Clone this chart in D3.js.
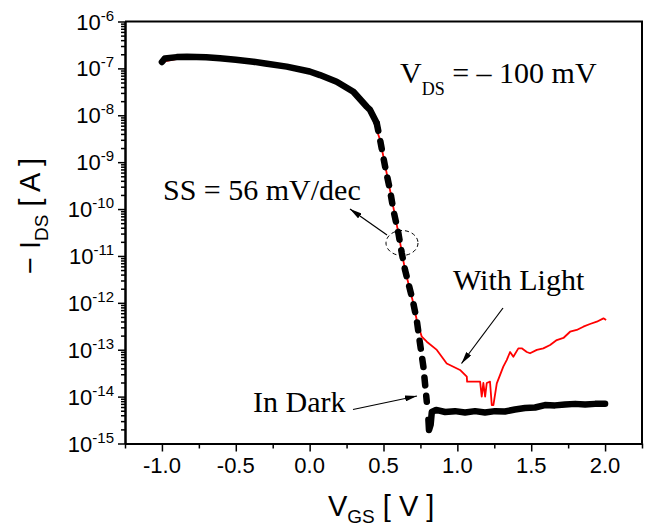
<!DOCTYPE html>
<html>
<head>
<meta charset="utf-8">
<script src="https://cdn.jsdelivr.net/npm/d3@7"></script>
<style>
  html, body { margin: 0; padding: 0; background: #fff; }
  svg { display: block; }
</style>
</head>
<body>
<div class="chart"></div>
<script>
// -I_DS (A) against V_GS (V)
let darkVgs = [-1.00, -0.98, -0.90, -0.83, -0.70, -0.607, -0.50, -0.381, -0.30, -0.155, 0.00, 0.07, 0.183, 0.296, 0.387, 0.409, 0.454,
  0.477, 0.511, 0.544, 0.567, 0.601, 0.624, 0.646, 0.680, 0.702, 0.725, 0.747, 0.770, 0.781, 0.793,
  0.804, 0.808, 0.819, 0.827, 0.856, 0.917, 0.984, 1.052, 1.12, 1.187, 1.255, 1.322, 1.39, 1.458, 1.526,
  1.593, 1.661, 1.729, 1.797, 1.865, 1.932, 2.00];
let darkIds = [1.37e-7, 1.63e-7, 1.74e-7, 1.77e-7, 1.73e-7, 1.64e-7, 1.53e-7, 1.39e-7, 1.27e-7, 1.09e-7, 8.6e-8, 7.2e-8, 5.2e-8, 3.18e-8, 1.52e-8, 1.30e-8, 6.84e-9,
  2.97e-9, 8.0e-10, 2.55e-10, 9.5e-11, 3.04e-11, 1.14e-11, 5.0e-12, 1.88e-12, 9.8e-13, 4.3e-13, 1.37e-13, 4.35e-14, 1.92e-14, 7.8e-15,
  3.2e-15, 1.94e-15, 2.5e-15, 4.7e-15, 5.2e-15, 4.7e-15, 4.9e-15, 4.6e-15, 4.9e-15, 4.6e-15, 4.9e-15, 4.8e-15, 5.3e-15, 5.7e-15, 5.85e-15,
  6.6e-15, 6.5e-15, 6.8e-15, 7.0e-15, 6.8e-15, 7.0e-15, 7.0e-15];

let lightVgs = [-1.00, -0.83, -0.607, -0.381, -0.155, 0.07, 0.296, 0.409, 0.477, 0.544, 0.601, 0.646, 0.702, 0.725,
  0.759, 0.793, 0.861, 0.928, 1.018, 1.064, 1.066, 1.154, 1.165, 1.176, 1.188, 1.199, 1.221, 1.233, 1.244, 1.267,
  1.311, 1.334, 1.357, 1.379, 1.413, 1.436, 1.47, 1.492, 1.538, 1.582, 1.628, 1.673, 1.718, 1.763, 1.808, 1.853,
  1.898, 1.944, 1.989, 2.007];
let lightIds = [1.37e-7, 1.77e-7, 1.64e-7, 1.39e-7, 1.09e-7, 7.2e-8, 3.18e-8, 1.30e-8, 2.97e-9, 2.55e-10, 3.04e-11, 5.0e-12, 9.8e-13, 4.3e-13,
  1.9e-13, 1.48e-13, 9.9e-14, 5.1e-14, 3.7e-14, 2.66e-14, 2.08e-14, 2.08e-14, 1.0e-14, 1.95e-14, 1.0e-14, 1.95e-14, 2.08e-14, 6.6e-15, 6.6e-15, 1.92e-14,
  4.35e-14, 6.0e-14, 8.95e-14, 7.1e-14, 1.07e-13, 1.07e-13, 8.95e-14, 8.4e-14, 9.9e-14, 1.07e-13, 1.26e-13, 1.61e-13, 1.78e-13, 2.42e-13, 2.64e-13, 3.1e-13,
  3.54e-13, 3.96e-13, 4.67e-13, 4.3e-13];

let xTicks = [-1.0, -0.5, 0.0, 0.5, 1.0, 1.5, 2.0];
let xTickLabels = ['-1.0', '-0.5', '0.0', '0.5', '1.0', '1.5', '2.0'];
let xMinorTicks = [-1.25, -0.75, -0.25, 0.25, 0.75, 1.25, 1.75, 2.25];
let yTickExponents = [-15, -14, -13, -12, -11, -10, -9, -8, -7, -6];
let yTickLabels = ['-15', '-14', '-13', '-12', '-11', '-10', '-9', '-8', '-7', '-6'];

let sansFont = '"Liberation Sans", Arial, sans-serif';
let serifFont = '"Liberation Serif", "Times New Roman", serif';

let svg = d3.select('div.chart').append('svg')
  .attr('width', 650)
  .attr('height', 528);

let x = d3.scaleLinear().domain([-1.25, 2.25]).range([125, 642]);
let y = d3.scaleLog().domain([1e-15, 1e-6]).range([443.5, 21.5]);

// minor log ticks 2..9 in every decade
let yMinorTicks = [];
yTickExponents.slice(0, -1).forEach(function(e) {
  d3.range(2, 10).forEach(function(k) { yMinorTicks.push(k * Math.pow(10, e)); });
});

let axes = svg.append('g');

axes.append('g')
  .attr('transform', 'translate(0,443.5)')
  .call(d3.axisBottom(x).tickValues(xMinorTicks).tickSize(5).tickSizeOuter(0).tickFormat(''));
axes.append('g')
  .attr('transform', 'translate(0,443.5)')
  .call(d3.axisBottom(x).tickValues(xTicks).tickSize(8).tickSizeOuter(0).tickFormat(''));
axes.append('g')
  .attr('transform', 'translate(125,0)')
  .call(d3.axisLeft(y).tickValues(yMinorTicks).tickSize(4).tickSizeOuter(0).tickFormat(''));
axes.append('g')
  .attr('transform', 'translate(125,0)')
  .call(d3.axisLeft(y).tickValues(yTickExponents.map(e => Math.pow(10, e))).tickSize(7).tickSizeOuter(0).tickFormat(''));

axes.selectAll('path.domain').attr('stroke', '#000').attr('stroke-width', 2);
axes.selectAll('.tick line').attr('stroke', '#000').attr('stroke-width', 1.5);

// top and right frame
svg.append('path')
  .attr('d', 'M' + x.range()[0] + ',' + y.range()[1] + 'H' + x.range()[1] + 'V' + y.range()[0])
  .attr('fill', 'none')
  .attr('stroke', '#000')
  .attr('stroke-width', 2);

svg.append('g').selectAll('text')
  .data(xTicks)
  .enter().append('text')
  .attr('x', d => x(d))
  .attr('y', 473)
  .attr('text-anchor', 'middle')
  .attr('font-family', sansFont)
  .attr('font-size', '22px')
  .text((d, i) => xTickLabels[i]);

let yLabels = svg.append('g').selectAll('text')
  .data(yTickExponents)
  .enter().append('text')
  .attr('x', 114)
  .attr('y', d => y(Math.pow(10, d)) + 8)
  .attr('text-anchor', 'end')
  .attr('font-family', sansFont)
  .attr('font-size', '22px');
yLabels.append('tspan').text('10');
yLabels.append('tspan')
  .attr('dy', -9)
  .attr('font-size', '15px')
  .text((d, i) => yTickLabels[i]);

// axis titles
let xTitle = svg.append('text')
  .attr('x', 328)
  .attr('y', 516)
  .attr('font-family', sansFont)
  .attr('font-size', '29px');
xTitle.append('tspan').text('V');
xTitle.append('tspan').attr('dy', 7).attr('font-size', '19px').text('GS');
xTitle.append('tspan').attr('dy', -7).text(' [ V ]');

let yTitle = svg.append('text')
  .attr('transform', 'translate(40,216) rotate(-90)')
  .attr('text-anchor', 'middle')
  .attr('font-family', sansFont)
  .attr('font-size', '29px');
yTitle.append('tspan').text('\u2212 I');
yTitle.append('tspan').attr('dy', 8).attr('font-size', '19px').text('DS');
yTitle.append('tspan').attr('dy', -8).text(' [ A ]');

// curves
let line = d3.line().x(d => x(d[0])).y(d => y(d[1]));
let dark = d3.zip(darkVgs, darkIds);
let light = d3.zip(lightVgs, lightIds);

svg.append('path')
  .datum(light)
  .attr('d', line)
  .attr('fill', 'none')
  .attr('stroke', '#ff0000')
  .attr('stroke-width', 1.8)
  .attr('stroke-linejoin', 'round');

let darkParts = [
  {pts: dark.filter(d => d[0] <= 0.454), dash: null},
  {pts: dark.filter(d => d[0] >= 0.454 && d[0] <= 0.793), dash: '8,10.5'},
  {pts: dark.filter(d => d[0] >= 0.804), dash: null}
];
darkParts.forEach(function(p) {
  svg.append('path')
    .datum(p.pts)
    .attr('d', line)
    .attr('fill', 'none')
    .attr('stroke', '#000')
    .attr('stroke-width', 6.5)
    .attr('stroke-linecap', 'round')
    .attr('stroke-linejoin', 'round')
    .attr('stroke-dasharray', p.dash);
});

// annotations
svg.append('defs').append('marker')
  .attr('id', 'head')
  .attr('markerUnits', 'userSpaceOnUse')
  .attr('viewBox', '0 0 12 6')
  .attr('refX', 12).attr('refY', 3)
  .attr('markerWidth', 12).attr('markerHeight', 6)
  .attr('orient', 'auto')
  .append('path')
  .attr('d', 'M0,0L12,3L0,6Z')
  .attr('fill', '#000');

let arrows = [[387, 235, 350, 209], [503, 308, 461.5, 363.5], [353, 409.5, 417, 396]];
svg.append('g').selectAll('line')
  .data(arrows)
  .enter().append('line')
  .attr('x1', d => d[0]).attr('y1', d => d[1])
  .attr('x2', d => d[2]).attr('y2', d => d[3])
  .attr('stroke', '#000')
  .attr('stroke-width', 1.2)
  .attr('marker-end', 'url(#head)');

svg.append('ellipse')
  .attr('cx', 402).attr('cy', 243)
  .attr('rx', 16).attr('ry', 12.5)
  .attr('fill', 'none')
  .attr('stroke', '#000')
  .attr('stroke-width', 1)
  .attr('stroke-dasharray', '4,3');

let notes = [
  {text: 'SS = 56 mV/dec', x: 163, y: 200},
  {text: 'With Light', x: 453, y: 290},
  {text: 'In Dark', x: 253, y: 412}
];
svg.append('g').selectAll('text')
  .data(notes)
  .enter().append('text')
  .attr('x', d => d.x)
  .attr('y', d => d.y)
  .attr('font-family', serifFont)
  .attr('font-size', '30px')
  .text(d => d.text);

let vds = svg.append('text')
  .attr('x', 400)
  .attr('y', 83)
  .attr('font-family', serifFont)
  .attr('font-size', '30px');
vds.append('tspan').text('V');
vds.append('tspan').attr('dy', 12).attr('font-size', '18px').text('DS');
vds.append('tspan').attr('dy', -12).text(' = \u2013 100 mV');
</script>
</body>
</html>
